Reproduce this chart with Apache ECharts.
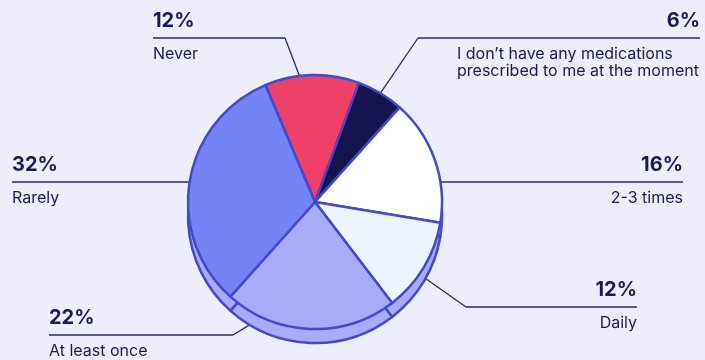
<!DOCTYPE html>
<html>
<head>
<meta charset="utf-8">
<style>
  html, body { margin: 0; padding: 0; background: #eeedfc; }
  #chart { width: 705px; height: 360px; }
</style>
<script src="https://cdn.jsdelivr.net/npm/echarts@6/dist/echarts.min.js"></script>
</head>
<body>
<div id="chart"></div>
<script>
// ---- data ----
const categories = ['Never', 'I don’t have any medications\nprescribed to me at the moment', '2-3 times', 'Daily', 'At least once', 'Rarely'];
const values = [12, 6, 16, 12, 22, 32];
const sliceColors = ['#ef4068', '#16144f', '#ffffff', '#eef4fe', '#a7abf8', '#7483f5'];

// ---- layout (positions / styles only) ----
const CX = 315, CY = 202, R = 127, DEPTH = 14;
const labelPos = [
  { side: 'left',  x: 153, lineY: 38,  width: 132, angle: -7,    ring: 'top',    nameStyle: 'n' },
  { side: 'right', x: 700, lineY: 38,  width: 282, angle: 31,    ring: 'top',    nameStyle: 'nl' },
  { side: 'right', x: 683, lineY: 182, width: 240, angle: 81,    ring: 'top',    nameStyle: 'n' },
  { side: 'right', x: 637, lineY: 307, width: 171, angle: 119.5, ring: 'bottom', nameStyle: 'n' },
  { side: 'left',  x: 49,  lineY: 335, width: 184, angle: 211,   ring: 'bottom', nameStyle: 'n' },
  { side: 'left',  x: 12,  lineY: 182, width: 175, angle: -81,   ring: 'top',    nameStyle: 'n' }
];
const INK = '#1c1a52';
const EDGE = '#4548c9';
const SIDE = '#a7abf8';
const START = 113;

const topData = categories.map((c, i) => ({
  name: c,
  value: values[i],
  itemStyle: { color: sliceColors[i] },
  label: { width: labelPos[i].width }
}));
const sideData = categories.map((c, i) => ({ name: c, value: values[i] }));

const chart = echarts.init(document.getElementById('chart'), null, { renderer: 'canvas' });
chart.setOption({
  backgroundColor: '#eeedfc',
  animation: false,
  series: [
    {
      type: 'pie',
      silent: true,
      center: [CX, CY + DEPTH],
      radius: R,
      startAngle: START,
      clockwise: true,
      avoidLabelOverlap: false,
      itemStyle: { color: SIDE, borderColor: EDGE, borderWidth: 2.5 },
      label: { show: false },
      labelLine: { show: false },
      emphasis: { disabled: true },
      data: sideData
    },
    {
      type: 'pie',
      silent: true,
      center: [CX, CY],
      radius: R,
      startAngle: START,
      clockwise: true,
      avoidLabelOverlap: false,
      itemStyle: { borderColor: EDGE, borderWidth: 2.5 },
      emphasis: { disabled: true },
      label: {
        show: true,
        position: 'outside',
        fontFamily: 'Inter',
        overflow: 'none',
        formatter: function (p) {
          const st = labelPos[p.dataIndex].nameStyle;
          return '{p|' + p.value + '%}\n{hr|}\n{sp|}\n' +
            p.name.split('\n').map(s => '{' + st + '|' + s + '}').join('\n');
        },
        rich: {
          p: { fontFamily: 'Inter', fontSize: 20, fontWeight: 700, color: INK, lineHeight: 35 },
          hr: { width: '100%', height: 0, lineHeight: 0, borderWidth: 1.3, borderColor: '#2a2965' },
          sp: { height: 8, lineHeight: 8 },
          n: { fontFamily: 'Inter', fontSize: 16, color: INK, lineHeight: 17 },
          nl: { fontFamily: 'Inter', fontSize: 16, color: INK, lineHeight: 17, align: 'left', padding: [0, 0, 0, 39] }
        }
      },
      labelLine: { show: true, smooth: false, lineStyle: { color: '#2a2965', width: 1.3 } },
      labelLayout: function (p) {
        const L = labelPos[p.dataIndex];
        const a = L.angle * Math.PI / 180;
        const cy = CY + (L.ring === 'bottom' ? DEPTH : 0);
        const anchor = [CX + R * Math.sin(a), cy - R * Math.cos(a)];
        const innerX = L.side === 'left' ? L.x + L.width : L.x - L.width;
        return {
          x: L.x,
          y: L.lineY - 35,
          align: L.side,
          verticalAlign: 'top',
          labelLinePoints: [anchor, [innerX, L.lineY]]
        };
      },
      data: topData
    }
  ]
});
</script>
</body>
</html>
